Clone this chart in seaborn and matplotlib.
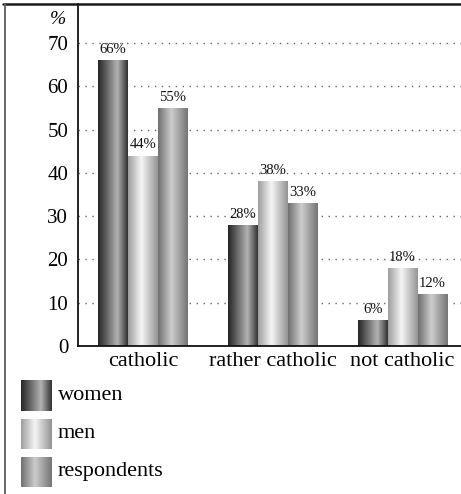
import numpy as np
import pandas as pd
import seaborn as sns
import matplotlib.pyplot as plt
from matplotlib.lines import Line2D

# data
categories = ['catholic', 'rather catholic', 'not catholic']
groups = ['women', 'men', 'respondents']
women = [66, 28, 6]
men = [44, 38, 18]
respondents = [55, 33, 12]

df = pd.DataFrame({
    'category': categories * 3,
    'group': ['women'] * 3 + ['men'] * 3 + ['respondents'] * 3,
    'value': women + men + respondents,
})

# grey "cylinder" shading for each group: (position, grey level)
shades = {
    'women': ([0, 0.65, 1], [0.15, 0.70, 0.20]),
    'men': ([0, 0.45, 1], [0.62, 0.96, 0.58]),
    'respondents': ([0, 0.45, 1], [0.44, 0.80, 0.46]),
}

def gradient(name, n=64):
    xp, fp = shades[name]
    return np.interp(np.linspace(0, 1, n), xp, fp)[np.newaxis, :]

sns.set_style('white')
plt.rcParams['font.family'] = ['Liberation Serif', 'DejaVu Serif']
plt.rcParams['text.color'] = 'black'
plt.rcParams['xtick.color'] = 'black'
plt.rcParams['ytick.color'] = 'black'

fig = plt.figure(figsize=(4.61, 4.94), dpi=100)
ax = fig.add_axes([78 / 461, 148 / 494, 383 / 461, 342 / 494])

sns.barplot(data=df, x='category', y='value', hue='group', order=categories,
            hue_order=groups, width=0.69, ax=ax, legend=False,
            edgecolor='white', linewidth=0.6)

# replace flat fills by shaded images clipped to each bar
for cont, name in zip(ax.containers, groups):
    for patch in cont.patches:
        x0, w, h = patch.get_x(), patch.get_width(), patch.get_height()
        patch.set_facecolor('none')
        img = ax.imshow(gradient(name), extent=[x0, x0 + w, 0, h], aspect='auto',
                        cmap='gray', vmin=0, vmax=1, zorder=2, interpolation='bilinear')
        img.set_clip_path(patch)
    ax.bar_label(cont, labels=[f'{int(v)}%' for v in cont.datavalues],
                 padding=3, fontsize=10.5, color='#111111')

ax.set_xlim(-0.5, 2.45)
ax.set_ylim(0, 79)
ax.set_yticks(range(0, 80, 10))
ax.yaxis.grid(True, linestyle=(0, (1, 4)), color='#666666', linewidth=1)
ax.set_axisbelow(True)
ax.set_xlabel('')
ax.set_ylabel('')
ax.tick_params(axis='y', length=0, pad=7, labelsize=15)
ax.tick_params(axis='x', length=0, pad=4, labelsize=16)
for s in ['top', 'right']:
    ax.spines[s].set_visible(False)
for s in ['left', 'bottom']:
    ax.spines[s].set_linewidth(1.3)
    ax.spines[s].set_color('#111111')

fig.text(58 / 461, 1 - 19 / 494, '%', fontsize=14, style='italic',
         ha='center', va='center')

# frame lines around the figure
fig.add_artist(Line2D([3 / 461, 1], [1 - 4 / 494, 1 - 4 / 494],
                      color='#1a1a1a', linewidth=1.8))
fig.add_artist(Line2D([5 / 461, 5 / 461], [0, 1 - 4 / 494],
                      color='#666666', linewidth=1.4))

# legend built by hand with shaded swatches
lax = fig.add_axes([0, 0, 1, 1], zorder=-1)
lax.axis('off')
for i, name in enumerate(groups):
    top = 381 + i * 38
    lax.imshow(gradient(name), extent=[21, 51, top + 30, top], aspect='auto',
               cmap='gray', vmin=0, vmax=1, interpolation='bilinear')
    lax.text(58, top + 14, name, fontsize=16, va='center', ha='left')
lax.set_xlim(0, 461)
lax.set_ylim(494, 0)

fig.savefig('out.png', dpi=100)
